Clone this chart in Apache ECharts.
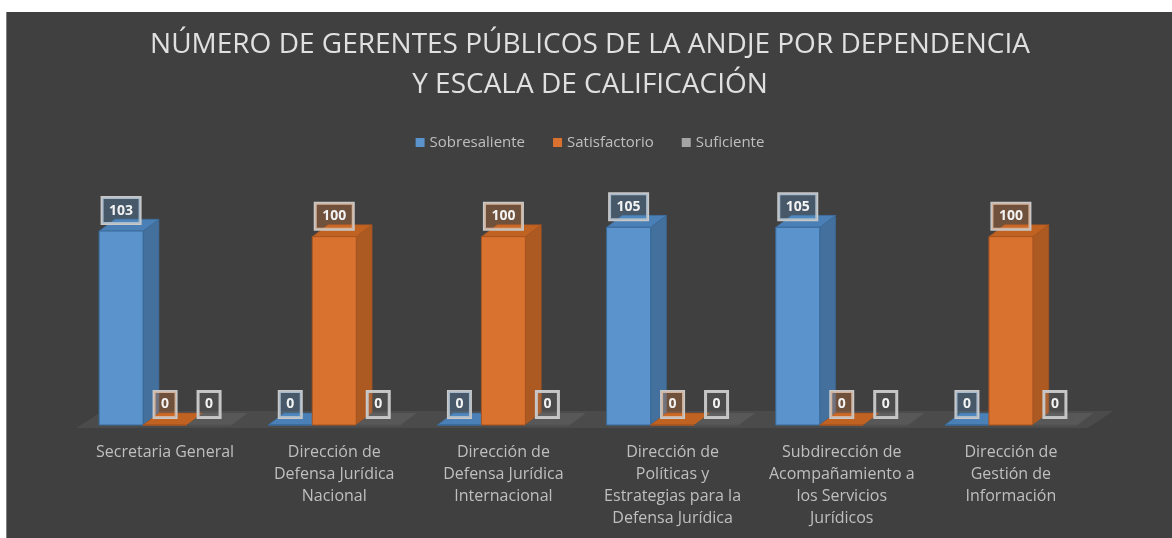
<!DOCTYPE html>
<html>
<head>
<meta charset="utf-8">
<script src="https://cdn.jsdelivr.net/npm/echarts@6/dist/echarts.min.js"></script>
<style>
  html, body { margin: 0; padding: 0; background: #fff; }
  #chart {
    position: absolute; left: 6px; top: 12px;
    width: 1166px; height: 526px;
    background: #404040; border-left: 1px solid #7f7f7f;
  }
</style>
</head>
<body>
<div id="chart"></div>
<script>
var categories = [
  'Secretaria General',
  'Dirección de\nDefensa Jurídica\nNacional',
  'Dirección de\nDefensa Jurídica\nInternacional',
  'Dirección de\nPolíticas y\nEstrategias para la\nDefensa Jurídica',
  'Subdirección de\nAcompañamiento a\nlos Servicios\nJurídicos',
  'Dirección de\nGestión de\nInformación'
];
var seriesNames = ['Sobresaliente', 'Satisfactorio', 'Suficiente'];
var sobresaliente = [103, 0, 0, 105, 105, 0];
var satisfactorio = [0, 100, 100, 0, 0, 100];
var suficiente = [0, 0, 0, 0, 0, 0];

var faces = [
  { front: '#5b94cc', side: '#43709c', top: '#4a80b6', edge: '#3a6a9a', label: 'rgba(91,155,213,0.28)' },
  { front: '#d9722f', side: '#ad5a22', top: '#bf6222', edge: '#a85420', label: 'rgba(237,125,49,0.28)' },
  { front: '#a5a5a5', side: '#6e6e6e', top: '#585858', edge: '#555555', label: 'rgba(165,165,165,0.12)' }
];

var chart = echarts.init(document.getElementById('chart'));

function barRenderer(pos, f) {
  return function (params, api) {
    var idx = api.value(0), val = api.value(1);
    var base = api.coord([idx, 0]);
    var top = api.coord([idx, val]);
    var band = api.size([1, 0])[0];
    var w = band * 0.26;
    var dx = w * 0.36, dy = w * 0.27;
    var x0 = base[0] + (pos - 0.5) * w, x1 = x0 + w;
    var yb = base[1], yt = top[1];
    return {
      type: 'group',
      children: [
        {
          type: 'polygon',
          shape: { points: [[x1, yt], [x1 + dx, yt - dy], [x1 + dx, yb - dy], [x1, yb]] },
          style: { fill: f.side, stroke: f.edge, lineWidth: 0.6 }
        },
        {
          type: 'polygon',
          shape: { points: [[x0, yt], [x0 + dx, yt - dy], [x1 + dx, yt - dy], [x1, yt]] },
          style: { fill: f.top, stroke: f.edge, lineWidth: 0.6 }
        },
        {
          type: 'rect',
          shape: { x: x0, y: yt, width: w, height: yb - yt },
          style: { fill: f.front, stroke: f.edge, lineWidth: 1 },
          textContent: {
            style: {
              text: String(val),
              fill: '#f2f2f2',
              font: 'bold 14px "Open Sans", sans-serif',
              backgroundColor: f.label,
              borderColor: '#c8c8c8',
              borderWidth: 1.5,
              padding: [6, 7, 6, 7]
            },
            z2: 100
          },
          textConfig: { position: 'top', distance: 7 }
        }
      ]
    };
  };
}

function floorRenderer(params, api) {
  var cs = params.coordSys;
  var y = api.coord([0, 0])[1] + 3;
  var xl = cs.x - 4, xr = cs.x + cs.width - 8;
  return {
    type: 'polygon',
    shape: { points: [[xl, y], [xl + 26, y - 17], [xr + 26, y - 17], [xr, y]] },
    style: { fill: '#4b4b4b' }
  };
}

var values = [sobresaliente, satisfactorio, suficiente];
var series = [{
  type: 'custom',
  name: 'floor',
  silent: true,
  renderItem: floorRenderer,
  data: [[0, 0]],
  z: 1
}];
values.forEach(function (vals, s) {
  series.push({
    type: 'custom',
    name: seriesNames[s],
    itemStyle: { color: faces[s].front },
    renderItem: barRenderer(s - 1, faces[s]),
    encode: { x: 0, y: 1 },
    data: vals.map(function (v, i) { return [i, v]; }),
    z: 2 + s
  });
});

chart.setOption({
  backgroundColor: '#404040',
  animation: false,
  title: {
    text: 'NÚMERO DE GERENTES PÚBLICOS DE LA ANDJE POR DEPENDENCIA\nY ESCALA DE CALIFICACIÓN',
    left: 'center',
    top: 8,
    textStyle: {
      color: '#e0e0e0',
      fontSize: 28,
      fontWeight: 'normal',
      lineHeight: 40,
      fontFamily: '"Open Sans", sans-serif'
    }
  },
  legend: {
    data: seriesNames,
    top: 118,
    left: 'center',
    icon: 'rect',
    itemWidth: 9,
    itemHeight: 9,
    itemGap: 28,
    textStyle: { color: '#bfbfbf', fontSize: 15, fontFamily: '"Open Sans", sans-serif' }
  },
  grid: { left: 73.5, right: 77.5, top: 187, bottom: 113 },
  xAxis: {
    type: 'category',
    data: categories,
    axisLine: { show: false },
    axisTick: { show: false },
    axisLabel: {
      color: '#bfbfbf',
      fontSize: 16,
      lineHeight: 22,
      margin: 16,
      interval: 0,
      fontFamily: '"Open Sans", sans-serif'
    }
  },
  yAxis: {
    type: 'value',
    min: 0,
    max: 120,
    show: false,
    splitLine: { show: false }
  },
  series: series
});
</script>
</body>
</html>
